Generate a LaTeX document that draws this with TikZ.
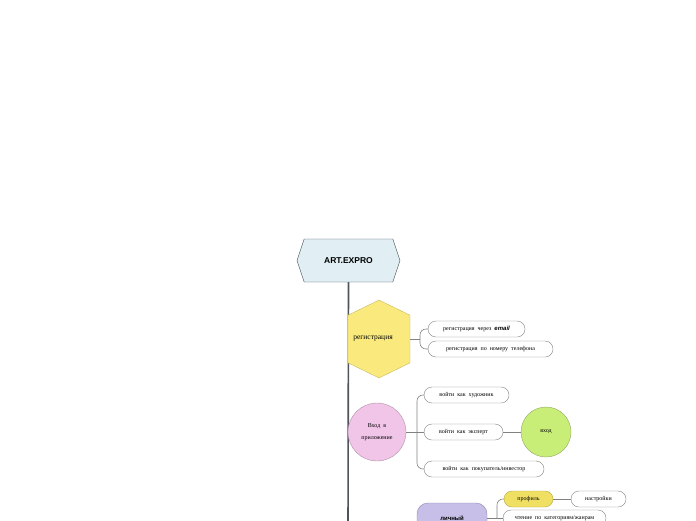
\documentclass[tikz,border=0pt]{standalone}
\usepackage{fontspec}
\setmainfont{Liberation Serif}
\setsansfont{Liberation Sans}
\usepackage{xcolor}
\usepackage{tikz}
\usetikzlibrary{arrows.meta,positioning,calc,shapes.geometric,shapes.symbols}
\definecolor{rootbg}{RGB}{225,238,244}
\definecolor{rootline}{RGB}{60,72,78}
\definecolor{regbg}{RGB}{250,234,126}
\definecolor{regline}{RGB}{200,184,96}
\definecolor{loginbg}{RGB}{240,197,232}
\definecolor{loginline}{RGB}{176,144,168}
\definecolor{enterbg}{RGB}{200,238,120}
\definecolor{enterline}{RGB}{144,168,96}
\definecolor{cabinetbg}{RGB}{199,191,231}
\definecolor{cabinetline}{RGB}{143,135,176}
\definecolor{profilebg}{RGB}{239,224,99}
\definecolor{profileline}{RGB}{184,168,64}
\definecolor{pillline}{RGB}{130,130,130}
\definecolor{spineline}{RGB}{77,85,89}
\newcommand{\leaffont}{\fontsize{6}{7}\selectfont}
\tikzset{
  rootbox/.style={signal, signal to=east and west, signal pointer angle=143,
    draw=rootline, fill=rootbg, minimum width=103pt, minimum height=43pt,
    inner sep=0pt, font=\sffamily\bfseries\fontsize{8.5}{9}\selectfont},
  reghex/.style={signal, signal to=north and south, signal pointer angle=128,
    draw=regline, fill=regbg, minimum width=62pt, minimum height=61pt,
    inner sep=0pt, font=\fontsize{7.5}{9}\selectfont},
  topiccircle/.style={circle, draw=loginline, fill=loginbg, minimum size=58pt,
    inner sep=0pt, align=center, font=\fontsize{6}{12}\selectfont},
  endcircle/.style={circle, draw=enterline, fill=enterbg, minimum size=50pt,
    inner sep=0pt, font=\leaffont},
  topicbox/.style={draw=cabinetline, fill=cabinetbg, rounded corners=11pt,
    minimum width=70pt, minimum height=30pt, inner sep=0pt,
    font=\sffamily\bfseries\fontsize{6}{7}\selectfont},
  leaf/.style={draw=pillline, fill=white, rounded corners=8pt,
    minimum height=16pt, inner sep=0pt, font=\leaffont},
  leafyellow/.style={leaf, draw=profileline, fill=profilebg},
  branch/.style={draw=pillline, line width=0.6pt, rounded corners=6pt},
  spine/.style={draw=spineline, line width=1.6pt}
}
\begin{document}
\begin{tikzpicture}[x=1pt, y=-1pt]
  \useasboundingbox (0,0) rectangle (696,520);
  \clip (0,0) rectangle (696,520);
  % spine
  \coordinate (spineend) at (348,530);
  \draw[spine] (348.5,282) -- (spineend);
  \node[rootbox] (root) at (348.5,260.5) {ART.EXPRO};
  % registration
  \node[reghex] (reg) at (379,339) {\hspace*{-12pt}регистрация};
  \node[leaf, minimum width=97pt] (regmail) at (476.5,329)
    {регистрация\ \ через\ \ {\sffamily\bfseries\itshape email}};
  \node[leaf, minimum width=125pt] (regphone) at (490.5,349)
    {регистрация\ \ по\ \ номеру\ \ телефона};
  \coordinate (regfork) at (420,339);
  \draw[branch] (reg.east) -- (regfork);
  \draw[branch] (regfork) |- (regmail.west);
  \draw[branch] (regfork) |- (regphone.west);
  % login
  \node[topiccircle] (login) at (377,432) {Вход\ \ в\\приложение};
  \node[leaf, minimum width=85pt] (loginart) at (466.5,395)
    {войти\ \ как\ \ художник};
  \node[leaf, minimum width=79pt] (loginexp) at (463.5,432)
    {войти\ \ как\ \ эксперт};
  \node[leaf, minimum width=120pt] (loginbuy) at (484,469)
    {войти\ \ как\ \ покупатель/инвестор};
  \node[endcircle] (enter) at (546,432) {вход};
  \coordinate (loginfork) at (417,432);
  \draw[branch] (login.east) -- (loginfork);
  \draw[branch] (loginfork) |- (loginart.west);
  \draw[branch] (loginfork) -- (loginexp.west);
  \draw[branch] (loginfork) |- (loginbuy.west);
  \draw[branch] (loginexp.east) -- (enter.west);
  % personal cabinet
  \node[topicbox] (cabinet) at (452,518) {личный};
  \node[leafyellow, minimum width=49pt] (profile) at (528.5,499) {профиль};
  \node[leaf, minimum width=55pt] (settings) at (598.5,499) {настройки};
  \node[leaf, minimum width=103pt] (reading) at (554.5,518)
    {чтение\ \ по\ \ категориям/жанрам};
  \coordinate (cabinetfork) at (497,518);
  \draw[branch] (cabinet.east |- cabinetfork) -- (cabinetfork);
  \draw[branch] (cabinetfork) |- (profile.west);
  \draw[branch] (cabinetfork) -- (reading.west);
  \draw[branch] (profile.east) -- (settings.west);
\end{tikzpicture}
\end{document}
